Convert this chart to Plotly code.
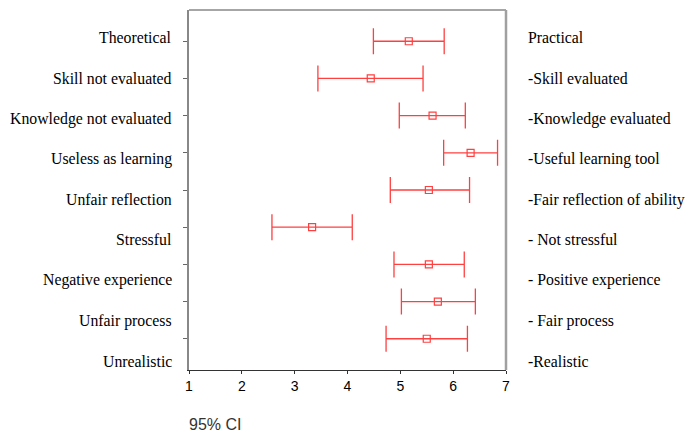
import plotly.graph_objects as go

left_labels = ["Theoretical", "Skill not evaluated", "Knowledge not evaluated",
               "Useless as learning", "Unfair reflection", "Stressful",
               "Negative experience", "Unfair process", "Unrealistic"]
right_labels = ["Practical", "-Skill evaluated", "-Knowledge evaluated",
                "-Useful learning tool", "-Fair reflection of ability",
                "- Not stressful", "- Positive experience", "- Fair process",
                "-Realistic"]
means = [5.16, 4.44, 5.61, 6.33, 5.54, 3.33, 5.54, 5.71, 5.50]
lower = [4.49, 3.44, 4.98, 5.82, 4.81, 2.57, 4.88, 5.02, 4.73]
upper = [5.83, 5.43, 6.23, 6.84, 6.31, 4.09, 6.21, 6.42, 6.27]
x_ticks = [1, 2, 3, 4, 5, 6, 7]

rows = list(range(len(means)))
RED = "#ff4040"

fig = go.Figure()
fig.add_trace(go.Scatter(
    x=means, y=rows, mode="markers",
    marker=dict(symbol="square-open", size=7, color=RED, line=dict(width=1.2, color=RED)),
    error_x=dict(type="data", symmetric=False,
                 array=[u - m for u, m in zip(upper, means)],
                 arrayminus=[m - l for m, l in zip(means, lower)],
                 color=RED, thickness=1.3, width=13),
    showlegend=False, hoverinfo="skip"))

# page body has an 8px margin: figure origin sits at page (8, 8)
OFF = 8
W, H = 698 - OFF, 439 - OFF
L, R, T, B = 189 - OFF, 192, 10 - OFF, 69
ph = H - T - B

fig.update_layout(
    width=W, height=H, margin=dict(l=L, r=R, t=T, b=B),
    paper_bgcolor="white", plot_bgcolor="white",
    xaxis=dict(range=[1, 7], tickvals=x_ticks, ticks="outside", ticklen=3,
               tickcolor="#333", showline=True, linecolor="#333", linewidth=1,
               showgrid=False, zeroline=False,
               tickfont=dict(family="Liberation Sans", size=14, color="black")),
    yaxis=dict(range=[8.84, -0.84], tickvals=rows, showticklabels=False,
               ticks="outside", ticklen=4, tickcolor="#666",
               showline=True, linecolor="#888", linewidth=1.5,
               showgrid=False, zeroline=False),
)
# top and right border
fig.add_shape(type="line", xref="paper", yref="paper", x0=0, x1=1, y0=1, y1=1,
              line=dict(color="#888", width=1.5))
fig.add_shape(type="line", xref="paper", yref="paper", x0=1, x1=1, y0=0, y1=1,
              line=dict(color="#a0a0a0", width=2.5))

font = dict(family="Liberation Serif", size=15.8, color="black")
for i, (lt, rt) in enumerate(zip(left_labels, right_labels)):
    py = 38 + i * 40.4 - OFF
    yp = (H - B - py) / ph
    fig.add_annotation(text=lt, xref="paper", yref="paper", x=0, y=yp,
                       xanchor="right", yanchor="middle", xshift=-15,
                       showarrow=False, font=font)
    fig.add_annotation(text=rt, xref="paper", yref="paper", x=1, y=yp,
                       xanchor="left", yanchor="middle", xshift=20,
                       showarrow=False, font=font)

fig.add_annotation(text="95% CI", xref="paper", yref="paper", x=0, y=(H - B - (425 - OFF)) / ph,
                   xanchor="left", yanchor="middle", showarrow=False, xshift=-2,
                   font=dict(family="Liberation Sans", size=16, color="#333"))

fig.write_html("out.html")
